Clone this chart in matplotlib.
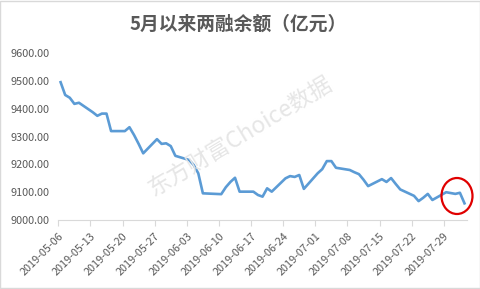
import numpy as np
import pandas as pd
import matplotlib
matplotlib.use("Agg")
import matplotlib.pyplot as plt
import matplotlib.transforms as mtransforms
from matplotlib.patches import Ellipse, Rectangle

plt.rcParams['font.family'] = ['Noto Sans CJK SC', 'DejaVu Sans']

# trading days May 6 - Aug 2 2019 (Jun 7 Dragon Boat holiday)
dates = pd.bdate_range("2019-05-06", "2019-08-02")
dates = dates[dates != pd.Timestamp("2019-06-07")]

balance = [9496, 9450, 9440, 9418, 9422,
           9388, 9375, 9383, 9383, 9320,
           9320, 9334, 9306, 9274, 9240,
           9291, 9274, 9276, 9266, 9231,
           9216, 9198, 9168, 9096,
           9093, 9118, 9137, 9152, 9102,
           9102, 9090, 9084, 9114, 9102,
           9150, 9158, 9155, 9162, 9112,
           9168, 9183, 9212, 9212, 9188,
           9180, 9172, 9165, 9145, 9122,
           9147, 9137, 9151, 9130, 9110,
           9087, 9068, 9080, 9094, 9072,
           9100, 9097, 9094, 9098, 9060]

tick_labels = ["2019-05-06", "2019-05-13", "2019-05-20", "2019-05-27", "2019-06-03",
               "2019-06-10", "2019-06-17", "2019-06-24", "2019-07-01", "2019-07-08",
               "2019-07-15", "2019-07-22", "2019-07-29"]

start = dates[0]
days = np.array([(d - start).days for d in dates])
tick_pos = np.array([(pd.Timestamp(t) - start).days for t in tick_labels]) - 0.5

W, H = 481, 289
fig = plt.figure(figsize=(W / 100, H / 100), dpi=100)
ax = fig.add_axes([58.3 / W, 1 - 220 / H, 408.5 / W, (220 - 53.3) / H])

grey = "#595959"
ax.plot(days, balance, color="#5B9BD5", linewidth=1.9, solid_joinstyle="round")

ax.set_xlim(-0.5, days[-1] + 0.5)
ax.set_ylim(9000, 9600)
ax.set_yticks(np.arange(9000, 9601, 100))
ax.set_yticklabels(["%.2f" % v for v in np.arange(9000, 9601, 100)], fontsize=7.8, color=grey)
ax.set_xticks(tick_pos)
ax.set_xticklabels(tick_labels, fontsize=7.8, color=grey, rotation=45,
                   ha="right", rotation_mode="anchor")

# excel puts the rotated labels a bit right of the tick
shift = mtransforms.ScaledTranslation(8 / 100, -3 / 100, fig.dpi_scale_trans)
for lab in ax.get_xticklabels():
    lab.set_transform(lab.get_transform() + shift)

for s in ["top", "right", "left"]:
    ax.spines[s].set_visible(False)
ax.spines["bottom"].set_color("#d9d9d9")
ax.tick_params(axis="y", length=0, pad=6)
ax.tick_params(axis="x", length=4, color="#d9d9d9", pad=4)

fig.text(238 / W, 1 - 24 / H, "5月以来两融余额（亿元）", fontsize=13.5, fontweight="bold",
         color=grey, ha="center", va="center")

# watermark
fig.text(240 / W, 1 - 136 / H, "东方财富Choice数据", fontsize=16.5, color="#e6e6e6",
         rotation=31, ha="center", va="center", zorder=0)

# red circle around the last points
fig.add_artist(Ellipse((457 / W, 1 - 196 / H), 31 / W, 36 / H, transform=fig.transFigure,
                       fill=False, edgecolor="#e00000", linewidth=1.6))

# chart border
fig.add_artist(Rectangle((0.001, 0.002), 0.997, 0.995, transform=fig.transFigure,
                         fill=False, edgecolor="#d9d9d9", linewidth=1))

fig.savefig("out.png", dpi=100)
